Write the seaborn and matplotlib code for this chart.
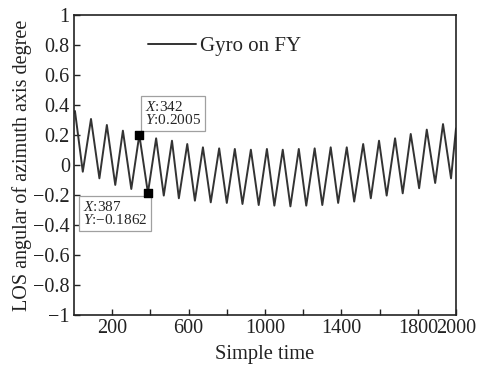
import matplotlib
matplotlib.use("Agg")
import matplotlib.pyplot as plt
import seaborn as sns
import pandas as pd

# Extrema of the gyro signal (sample index, degree)
sample_idx = [0, 5, 46, 89, 133, 172, 216, 256, 300, 342, 387, 430, 470, 513, 549,
              593, 633, 675, 716, 760, 800, 842, 882, 926, 967, 1010, 1049, 1093, 1133,
              1177, 1216, 1260, 1300, 1344, 1383, 1428, 1467, 1514, 1554, 1597, 1637,
              1681, 1721, 1763, 1807, 1847, 1891, 1932, 1974, 2000]
angle_deg = [0.35, 0.36, -0.045, 0.307, -0.089, 0.267, -0.133, 0.229, -0.16, 0.2005,
             -0.1862, 0.178, -0.204, 0.162, -0.222, 0.14, -0.238, 0.118, -0.249, 0.111,
             -0.253, 0.107, -0.26, 0.102, -0.267, 0.107, -0.271, 0.102, -0.276, 0.107,
             -0.271, 0.111, -0.267, 0.118, -0.253, 0.118, -0.244, 0.14, -0.222, 0.162,
             -0.204, 0.178, -0.189, 0.207, -0.155, 0.236, -0.12, 0.273, -0.089, 0.244]

marked_x = [342, 387]
marked_y = [0.2005, -0.1862]
marked_text = ["$\\mathit{X}$:342\n$\\mathit{Y}$:0.2005", "$\\mathit{X}$:387\n$\\mathit{Y}$:\u22120.1862"]

x_ticks = [200, 400, 600, 800, 1000, 1200, 1400, 1600, 1800, 2000]
x_ticklabels = ["200", "", "600", "", "1000", "", "1400", "", "1800", "2000"]
y_ticks = [1, 0.8, 0.6, 0.4, 0.2, 0, -0.2, -0.4, -0.6, -0.8, -1]
y_ticklabels = ["1", "0.8", "0.6", "0.4", "0.2", "0", "\u22120.2", "\u22120.4", "\u22120.6", "\u22120.8", "\u22121"]

sns.set_style("white")
plt.rcParams["font.family"] = ["Liberation Serif", "DejaVu Serif"]
plt.rcParams["mathtext.fontset"] = "custom"
plt.rcParams["mathtext.rm"] = "Liberation Serif"
plt.rcParams["mathtext.it"] = "Liberation Serif:italic"

fig = plt.figure(figsize=(4.81, 3.65), dpi=100)
ax = fig.add_axes([74/481, 1-315/365, (456-74)/481, 300/365])

df = pd.DataFrame({"Simple time": sample_idx, "angle": angle_deg})
sns.lineplot(data=df, x="Simple time", y="angle", ax=ax, color="#333333",
             linewidth=1.4, label="Gyro on FY", sort=False)

ax.scatter(marked_x, marked_y, marker="s", s=40, color="black", zorder=5)
box1 = dict(boxstyle="square,pad=0.25", fc="white", ec="#a0a0a0", lw=0.9)
ax.annotate(marked_text[0], xy=(marked_x[0], marked_y[0]), xytext=(145, 365-100),
            textcoords="figure pixels", fontsize=11, va="top", ha="left", bbox=box1,
            linespacing=0.95)
ax.annotate(marked_text[1], xy=(marked_x[1], marked_y[1]), xytext=(83, 365-200),
            textcoords="figure pixels", fontsize=11, va="top", ha="left", bbox=box1,
            linespacing=0.95)

ax.set_xlim(0, 2000)
ax.set_ylim(-1, 1)
ax.set_xticks(x_ticks)
ax.set_xticklabels(x_ticklabels)
ax.set_yticks(y_ticks)
ax.set_yticklabels(y_ticklabels)
ax.tick_params(axis="both", direction="in", length=4, width=1, labelsize=14.5,
               bottom=True, left=True, top=False, right=False, colors="#222222")
ax.tick_params(axis="x", pad=3)
ax.tick_params(axis="y", pad=3)
for s in ax.spines.values():
    s.set_color("#222222")
    s.set_linewidth(1.2)
ax.set_xlabel("Simple time", fontsize=14.8, color="#222222", labelpad=5)
ax.set_ylabel("LOS angular of azimuth axis degree", fontsize=14.5, color="#222222", labelpad=1)
ax.legend(loc="center left", bbox_to_anchor=((148-74)/382, (315-46)/300), frameon=False,
          fontsize=15, handlelength=2.3, handletextpad=0.2, borderaxespad=0, borderpad=0)

fig.savefig("out.png", dpi=100)
